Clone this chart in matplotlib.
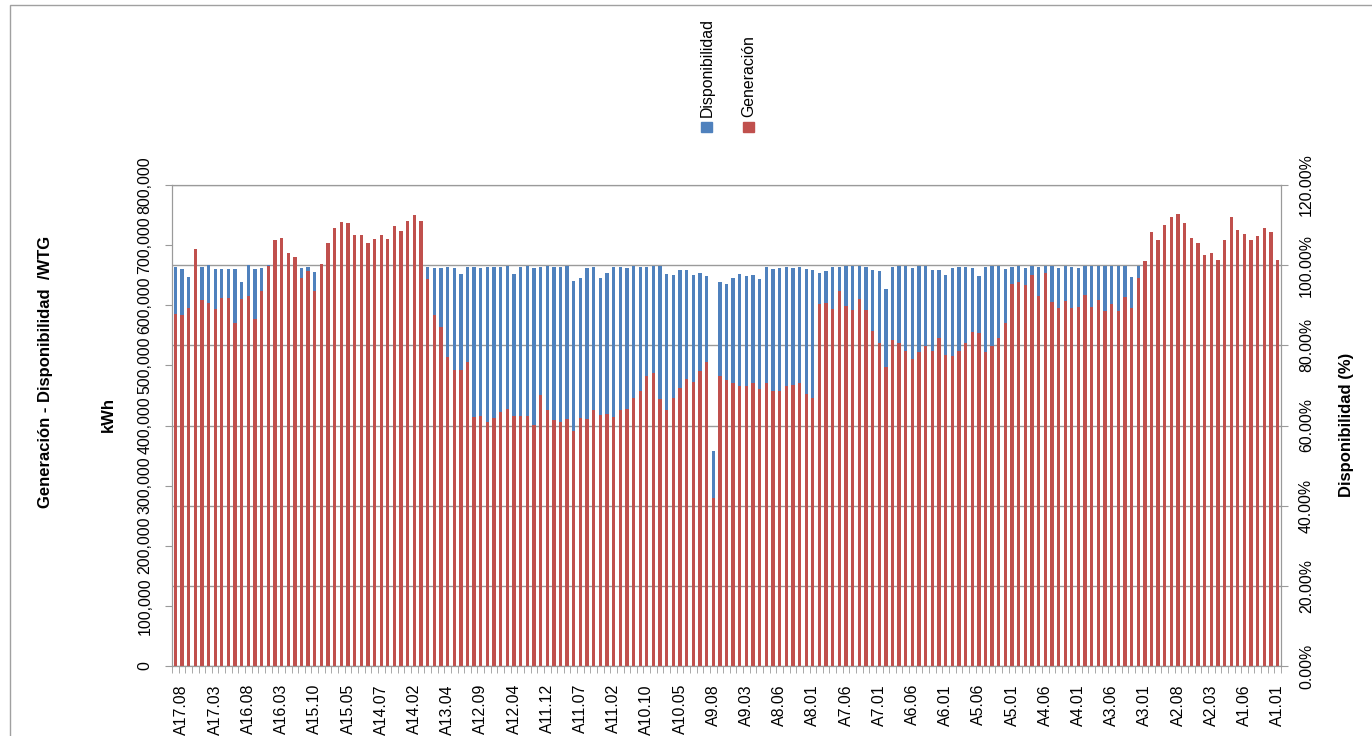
import matplotlib
matplotlib.use('Agg')
import matplotlib.pyplot as plt
import numpy as np
from matplotlib.patches import Rectangle

plt.rcParams['font.family'] = ['Liberation Sans', 'DejaVu Sans']

# Generación por aerogenerador (kWh), de A17.xx a A1.01
generacion = [
    585000, 583000, 596000, 694000, 609000, 603000, 593000, 612000, 612000, 570000,
    610000, 616000, 577000, 623000, 666000, 709000, 712000, 687000, 680000, 646000,
    657000, 623000, 669000, 703000, 728000, 738000, 737000, 717000, 717000, 704000,
    710000, 717000, 711000, 732000, 723000, 740000, 750000, 740000, 643000, 583000,
    563000, 514000, 493000, 492000, 506000, 414000, 415000, 406000, 412000, 423000,
    427000, 416000, 416000, 416000, 401000, 450000, 426000, 409000, 406000, 410000,
    391000, 412000, 410000, 426000, 417000, 419000, 414000, 426000, 427000, 446000,
    458000, 483000, 488000, 444000, 425000, 445000, 462000, 477000, 473000, 490000,
    505000, 280000, 483000, 475000, 471000, 466000, 465000, 471000, 461000, 470000,
    457000, 458000, 465000, 468000, 470000, 453000, 445000, 602000, 603000, 594000,
    623000, 599000, 592000, 610000, 592000, 557000, 537000, 497000, 542000, 537000,
    524000, 510000, 522000, 533000, 524000, 546000, 518000, 516000, 524000, 537000,
    556000, 554000, 522000, 533000, 546000, 570000, 636000, 638000, 633000, 650000,
    615000, 654000, 606000, 596000, 607000, 596000, 597000, 617000, 597000, 608000,
    590000, 602000, 590000, 613000, 596000, 646000, 674000, 722000, 708000, 733000,
    746000, 751000, 737000, 712000, 703000, 683000, 687000, 675000, 709000, 746000,
    725000, 719000, 709000, 715000, 729000, 721000, 676000,
]

# Disponibilidad (%)
disponibilidad = [
    99.63, 98.96, 97.13, 100.0, 99.63, 99.96, 98.96, 98.96, 99.04, 98.96,
    95.72, 99.96, 99.04, 99.29, 100.0, 100.0, 100.0, 100.0, 100.0, 99.29,
    99.63, 98.29, 100.0, 100.0, 100.0, 100.0, 100.0, 100.0, 100.0, 100.0,
    100.0, 100.0, 100.0, 100.0, 100.0, 100.0, 100.0, 100.0, 99.46, 99.21,
    99.21, 99.63, 99.21, 97.88, 99.63, 99.63, 99.21, 99.63, 99.63, 99.46,
    99.88, 97.71, 99.63, 99.88, 99.21, 99.63, 99.88, 99.46, 99.46, 99.88,
    96.13, 96.72, 99.21, 99.46, 96.88, 98.13, 99.63, 99.63, 99.21, 99.88,
    99.46, 99.46, 99.88, 99.88, 97.71, 97.46, 98.79, 98.79, 97.46, 98.13,
    97.30, 53.64, 95.72, 95.38, 96.88, 97.71, 97.30, 97.46, 96.55, 99.63,
    98.96, 99.21, 99.63, 99.21, 99.46, 99.04, 98.71, 98.13, 98.54, 99.63,
    99.46, 99.88, 99.88, 99.88, 99.46, 98.71, 98.46, 94.05, 99.63, 99.88,
    99.88, 99.38, 99.88, 99.88, 98.71, 98.71, 97.46, 99.21, 99.46, 99.46,
    99.21, 97.30, 99.46, 99.88, 99.88, 99.04, 99.46, 99.88, 99.21, 99.88,
    99.46, 99.88, 99.88, 99.21, 99.88, 99.63, 99.21, 99.88, 99.88, 99.88,
    99.88, 99.88, 99.88, 99.88, 96.96, 99.88, 100.0, 100.0, 100.0, 100.0,
    100.0, 100.0, 100.0, 100.0, 100.0, 100.0, 100.0, 100.0, 100.0, 100.0,
    100.0, 100.0, 100.0, 100.0, 100.0, 100.0, 100.0,
]

# etiquetas visibles (una de cada 5 categorias, empezando en la segunda)
tick_labels = ['A17.08', 'A17.03', 'A16.08', 'A16.03', 'A15.10', 'A15.05', 'A14.07',
               'A14.02', 'A13.04', 'A12.09', 'A12.04', 'A11.12', 'A11.07', 'A11.02',
               'A10.10', 'A10.05', 'A9.08', 'A9.03', 'A8.06', 'A8.01', 'A7.06',
               'A7.01', 'A6.06', 'A6.01', 'A5.06', 'A5.01', 'A4.06', 'A4.01',
               'A3.06', 'A3.01', 'A2.08', 'A2.03', 'A1.06', 'A1.01']

gen_ticks = [0, 100000, 200000, 300000, 400000, 500000, 600000, 700000, 800000]
disp_ticks = [0, 20, 40, 60, 80, 100, 120]

blue = '#4F81BD'
red = '#C0504D'
grey = '#9A9A9A'

W, H = 1372, 736
fig = plt.figure(figsize=(W / 100, H / 100), dpi=100)
ax1 = fig.add_axes([172 / W, 1 - 666 / H, (1281 - 172) / W, (666 - 185) / H])
ax2 = ax1.twinx()

x = np.arange(len(generacion))
ax2.bar(x, disponibilidad, width=0.5, color=blue, zorder=2)
ax1.bar(x, generacion, width=0.5, color=red, zorder=2)

# rojo encima del azul
ax1.set_zorder(ax2.get_zorder() + 1)
ax1.patch.set_visible(False)

ax1.set_xlim(-0.5, len(x) - 0.5)
ax1.set_ylim(0, 800000)
ax2.set_ylim(0, 120)

ax2.yaxis.grid(True, color=grey, lw=1)
ax2.set_axisbelow(True)

for ax in (ax1, ax2):
    for s in ax.spines.values():
        s.set_color(grey)

# eje x
pos = np.arange(1, len(x), 5)
ax1.set_xticks(pos)
ax1.set_xticklabels(tick_labels, rotation=90, fontsize=11.4)
ax1.set_xticks(np.arange(-0.5, len(x), 1), minor=True)
ax1.tick_params(axis='x', which='major', length=0, pad=13)
ax1.tick_params(axis='x', which='minor', length=5, color=grey)

# eje primario
ax1.set_yticks(gen_ticks)
ax1.set_yticklabels([f'{v:,}' for v in gen_ticks], rotation=90, va='center', fontsize=11.4)
ax1.tick_params(axis='y', length=5, color=grey, pad=9)

# eje secundario
ax2.set_yticks(disp_ticks)
ax2.set_yticklabels([f'{v:.2f}%' for v in disp_ticks], rotation=90, va='center', fontsize=11.4)
ax2.tick_params(axis='y', length=5, color=grey, pad=8)

# titulos de ejes
fig.text(46 / W, 1 - 372 / H, 'Generación - Disponibilidad  /WTG', rotation=90,
         ha='center', va='center', fontsize=12, fontweight='bold')
fig.text(108 / W, 1 - 415 / H, 'kWh', rotation=90,
         ha='center', va='center', fontsize=12, fontweight='bold')
fig.text(1347 / W, 1 - 425 / H, 'Disponibilidad (%)', rotation=90,
         ha='center', va='center', fontsize=12, fontweight='bold')

# leyenda
fig.add_artist(Rectangle((701 / W, 1 - 132 / H), 11 / W, 10 / H, color=blue,
                         transform=fig.transFigure))
fig.text(707 / W, 1 - 117 / H, 'Disponibilidad', rotation=90,
         ha='center', va='bottom', fontsize=11.4)
fig.add_artist(Rectangle((743 / W, 1 - 132 / H), 11 / W, 10 / H, color=red,
                         transform=fig.transFigure))
fig.text(749 / W, 1 - 117 / H, 'Generación', rotation=90,
         ha='center', va='bottom', fontsize=11.4)

# borde del area del grafico
fig.add_artist(Rectangle((10 / W, -0.1), 1.2, 1.1 - 5 / H, fill=False,
                         edgecolor='#A0A0A0', lw=1, transform=fig.transFigure))

fig.savefig('out.png', dpi=100)
